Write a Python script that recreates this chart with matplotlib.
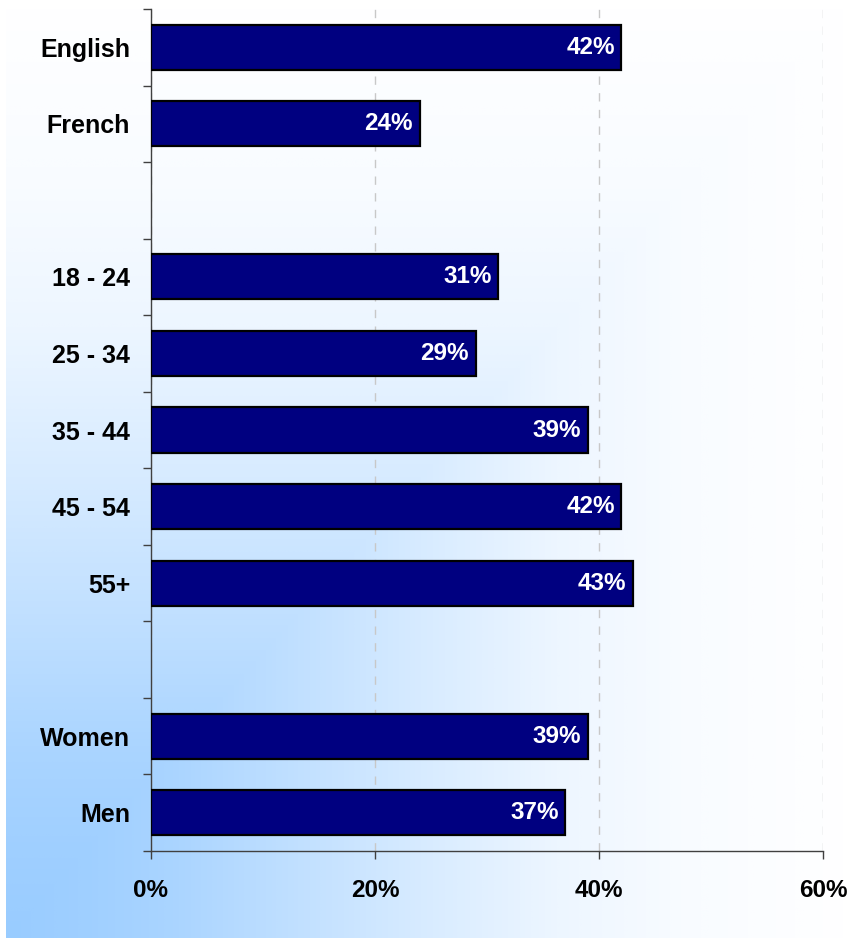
import numpy as np
import matplotlib
matplotlib.use("Agg")
import matplotlib.pyplot as plt
from matplotlib.colors import LinearSegmentedColormap

plt.rcParams['font.family'] = ['Liberation Sans', 'DejaVu Sans']

# Rows from top to bottom; empty strings are spacer rows between groups
labels = ["English", "French", "", "18 - 24", "25 - 34", "35 - 44",
          "45 - 54", "55+", "", "Women", "Men"]
values = [42, 24, None, 31, 29, 39, 42, 43, None, 39, 37]
x_ticks = [0, 20, 40, 60]

fig = plt.figure(figsize=(8.52, 9.38), dpi=100)

# background: corner gradient, light blue bottom-left fading to white
bg = fig.add_axes([6 / 852, 0, 1 - 6 / 852, 1], zorder=-1)
gx, gy = np.meshgrid(np.linspace(0, 1, 500), np.linspace(0, 1, 500))
s = np.maximum(gx, gy)
f = np.interp(s, [0, 0.1, 0.2, 0.35, 0.5, 0.65, 0.8, 1],
              [0, 0.07, 0.17, 0.4, 0.62, 0.82, 0.93, 1])
cmap = LinearSegmentedColormap.from_list("bg", ["#99CCFF", "#FFFFFF"])
bg.imshow(f, cmap=cmap, origin="lower", aspect="auto",
          extent=[0, 1, 0, 1], vmin=0, vmax=1, interpolation="bilinear")
bg.axis("off")

ax = fig.add_axes([151 / 852, 1 - 851 / 938, (823 - 151) / 852, (851 - 9) / 938])
ax.patch.set_alpha(0)

pos = np.arange(len(labels))
for y, v in zip(pos, values):
    if v is None:
        continue
    ax.barh(y, v, height=0.59, color="#000080", edgecolor="black",
            linewidth=1.6, zorder=3)
    ax.text(v - 0.6, y, f"{v}%", color="white", fontsize=17.5,
            fontweight="bold", ha="right", va="center", zorder=4)

ax.set_xlim(0, 60)
ax.set_ylim(len(labels) - 0.5, -0.5)

ax.set_xticks(x_ticks)
ax.set_xticklabels([f"{x}%" for x in x_ticks], fontsize=17.5, fontweight="bold")
ax.tick_params(axis="x", length=6, width=1, color="#404040", pad=14)

ax.set_yticks(pos)
ax.set_yticklabels(labels, fontsize=18, fontweight="bold")
ax.set_yticks(np.arange(-0.5, len(labels)), minor=True)
ax.tick_params(axis="y", which="major", length=0, pad=15)
ax.tick_params(axis="y", which="minor", length=6, width=1, color="#404040")

ax.grid(axis="x", linestyle=(0, (6, 6)), color="#C8C8C8", linewidth=1, zorder=0)
ax.set_axisbelow(True)

for side in ["top", "right"]:
    ax.spines[side].set_visible(False)
for side in ["left", "bottom"]:
    ax.spines[side].set_color("#404040")
    ax.spines[side].set_linewidth(1)

fig.savefig("out.png", dpi=100)
